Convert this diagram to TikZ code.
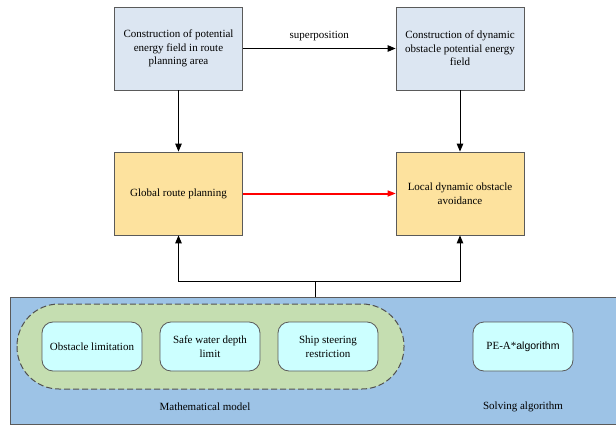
\documentclass[tikz,border=0pt]{standalone}
\usepackage{fontspec}
\setmainfont{Liberation Serif}
\newfontfamily\algsans{Liberation Sans}
\usetikzlibrary{arrows.meta}
\definecolor{topblue}{HTML}{DCE6F2}
\definecolor{midyellow}{HTML}{FDE29E}
\definecolor{basblue}{HTML}{9DC3E6}
\definecolor{grn}{HTML}{C5DEB1}
\definecolor{cyanbox}{HTML}{CCFFFF}
\definecolor{edge}{HTML}{5A5A5A}
\definecolor{redline}{HTML}{FF0000}
\tikzset{
  txt/.style={font=\fontsize{11}{13.5}\selectfont},
  topbox/.style={txt, draw=edge, line width=0.8pt, fill=topblue, minimum width=128pt, minimum height=83pt, align=center},
  midbox/.style={txt, draw=edge, line width=0.8pt, fill=midyellow, minimum width=128pt, minimum height=83pt, align=center},
  smallbox/.style={txt, draw=edge, line width=0.8pt, fill=cyanbox, rounded corners=11pt, minimum width=100pt, minimum height=49pt, align=center},
  lbl/.style={font=\fontsize{11}{12}\selectfont},
  conn/.style={line width=1pt, -{Triangle[length=8pt,width=6.5pt]}},
  redconn/.style={draw=redline, line width=2pt, -{Triangle[length=8pt,width=6.5pt,line width=0pt,fill=redline]}},
}
\begin{document}
\begin{tikzpicture}[x=1pt,y=-1pt]
\useasboundingbox (0,0) rectangle (616,425);
% bottom panel
\draw[edge, line width=0.8pt, fill=basblue] (10,297) rectangle (616,424);
\draw[edge!90!black, line width=1pt, dash pattern=on 6pt off 3pt, fill=grn, rounded corners=42pt] (17,304) rectangle (404,389);
\node[smallbox] (obs) at (92,346.5) {Obstacle limitation};
\node[smallbox] (safe) at (210,346.5) {Safe water depth\\limit};
\node[smallbox] (ship) at (328,346.5) {Ship steering\\restriction};
\node[smallbox] (pea) at (523,346.5) {PE-A*{\algsans\fontsize{10.5}{12}\selectfont algorithm}};
\node[lbl] (mm) at (205,407) {Mathematical model};
\node[lbl] (sa) at (523,407) {Solving algorithm};
% top boxes
\node[topbox] (c1) at (178.5,48.5) {Construction of potential\\energy field in route\\planning area};
\node[topbox] (c2) at (460,48.5) {Construction of dynamic\\obstacle potential energy\\field};
\node[midbox] (g) at (178.5,193.5) {Global route planning};
\node[midbox] (l) at (460,193.5) {Local dynamic obstacle\\avoidance};
% connectors
\draw[conn] (c1) -- node[lbl, above=4pt] (sp) {superposition} (c2);
\draw[conn] (c1) -- (g);
\draw[conn] (c2) -- (l);
\draw[redconn] (g) -- (l);
\coordinate (stemtop) at (315,297);
\coordinate (stem) at (315,281);
\draw[line width=1pt] (stemtop) -- (stem);
\draw[conn] (stem) -| (g.south);
\draw[conn] (stem) -| (l.south);
\end{tikzpicture}
\end{document}
